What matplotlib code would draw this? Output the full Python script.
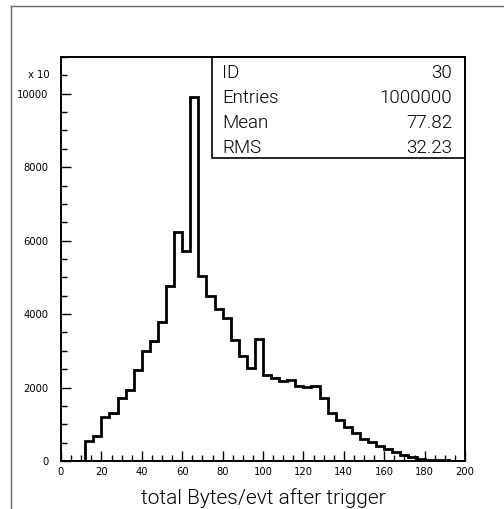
import numpy as np
import matplotlib
matplotlib.use('Agg')
import matplotlib.pyplot as plt
from matplotlib.ticker import MultipleLocator

# bin contents (x 10), 4-unit bins from 0 to 200
bin_edges = np.arange(0, 204, 4)
counts = [0, 0, 0, 540, 675, 1185, 1310, 1715, 1925, 2470,
          3000, 3280, 3790, 4760, 6225, 5720, 9900, 5045, 4480, 4130,
          3900, 3305, 2860, 2545, 3335, 2335, 2262, 2175, 2218, 2040,
          2020, 2050, 1715, 1295, 1110, 927, 775, 612, 518, 410,
          338, 237, 174, 110, 66, 38, 20, 14, 9, 5]

stat_names = ['ID', 'Entries', 'Mean', 'RMS']
stat_values = ['30', '1000000', '77.82', '32.23']

x_label = 'total Bytes/evt after trigger'

W, H = 504, 509
fig = plt.figure(figsize=(W / 100, H / 100), dpi=100)

# page frame (only top and left edges visible)
fig.add_artist(plt.Line2D([11 / W, 1], [1 - 6 / H, 1 - 6 / H], color='#666666', lw=1.0))
fig.add_artist(plt.Line2D([11 / W, 11 / W], [0, 1 - 6 / H], color='#666666', lw=1.0))

ax = fig.add_axes([61 / W, (H - 461) / H, 404 / W, 404 / H])
ax.stairs(counts, bin_edges, color='black', lw=2.0)

ax.set_xlim(0, 200)
ax.set_ylim(0, 11000)
ax.xaxis.set_major_locator(MultipleLocator(20))
ax.xaxis.set_minor_locator(MultipleLocator(5))
ax.yaxis.set_major_locator(MultipleLocator(2000))
ax.yaxis.set_minor_locator(MultipleLocator(500))
ax.tick_params(which='both', direction='in', width=1.0, color='black')
ax.tick_params(which='major', length=7, labelsize=7.2, pad=4)
ax.tick_params(which='minor', length=4)
ax.tick_params(axis='y', pad=9)
for s in ax.spines.values():
    s.set_linewidth(1.4)

ax.text(-0.027, 10500, 'x 10', transform=ax.get_yaxis_transform(),
        ha='right', va='center', fontsize=7.2)

light = dict(family=['Roboto', 'DejaVu Sans'], fontweight=300, color='black')
ax.set_xlabel(x_label, labelpad=8, fontsize=15, **light)

# statistics box
bx0, bx1 = 212 / W, 465 / W
by0, by1 = 1 - 158 / H, 1 - 57 / H
fig.add_artist(plt.Rectangle((bx0, by0), bx1 - bx0, by1 - by0, fill=False,
                             ec='black', lw=1.2, transform=fig.transFigure))
row_y = [73, 98, 123, 148]
for name, val, yy in zip(stat_names, stat_values, row_y):
    fig.text(222 / W, 1 - yy / H, name, ha='left', va='center', fontsize=13.5, **light)
    fig.text(452 / W, 1 - yy / H, val, ha='right', va='center', fontsize=13.5, **light)

fig.savefig('out.png', dpi=100, facecolor='white')
